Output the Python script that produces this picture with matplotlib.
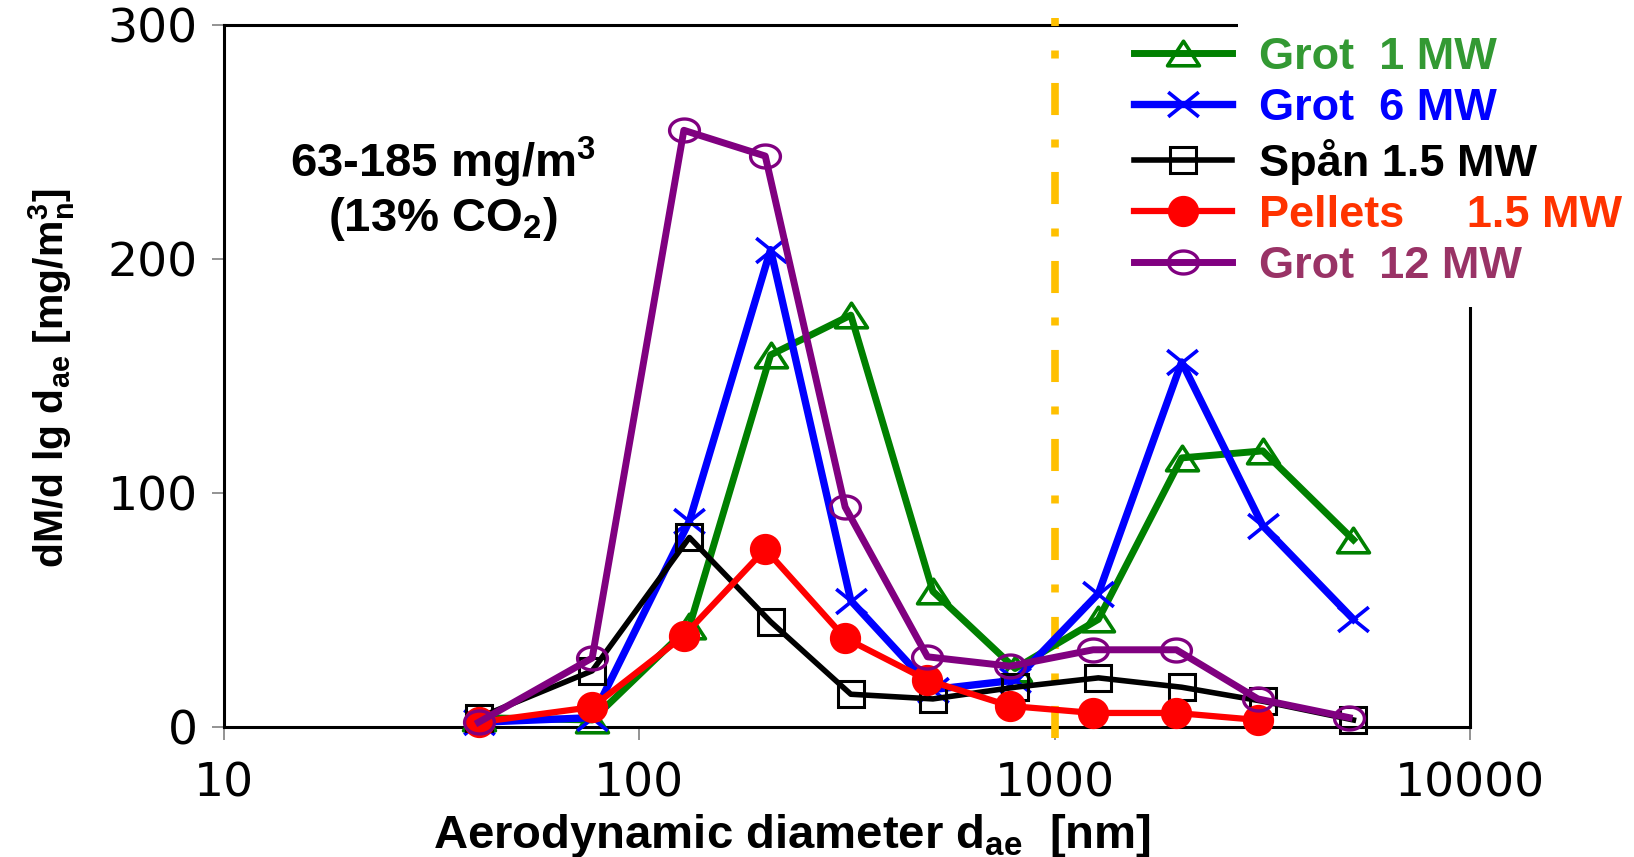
import numpy as np
import matplotlib
matplotlib.use('Agg')
import matplotlib.pyplot as plt
from matplotlib import font_manager
from matplotlib.patches import Rectangle
from matplotlib.path import Path

# diameters (nm) - two slightly different stage sets
diam_a = [41, 77, 132, 207, 323, 509, 803, 1274, 2022, 3170, 5240]
diam_b = [41, 77, 128, 201, 313, 494, 780, 1238, 1963, 3085, 5117]

grot_1mw = [4, 3, 43, 159, 176, 58, 25, 46, 115, 118, 80]
grot_6mw = [2, 4, 88, 204, 54, 16, 20, 57, 156, 86, 46]
span_15mw = [4, 24, 81, 45, 14, 12, 17, 21, 17, 11, 3]
pellets_15mw = [2, 8.5, 39, 76, 38, 20, 9, 6, 6, 3]
grot_12mw = [2, 29.5, 255, 244, 94, 30, 26, 33, 33, 12, 4]

labels = ['Grot  1 MW', 'Grot  6 MW', 'Spån 1.5 MW', 'Pellets     1.5 MW', 'Grot  12 MW']
line_colors = ['#008000', '#0000FF', '#000000', '#FF0000', '#800080']
text_colors = ['#339933', '#0000FF', '#000000', '#FF3300', '#993366']

x_ticks = [10, 100, 1000, 10000]
y_ticks = [0, 100, 200, 300]

names = {f.name for f in font_manager.fontManager.ttflist}
if 'Liberation Sans Narrow' in names:
    narrow = 'Liberation Sans Narrow'
    xl_size, ann_size = 41, 42
else:
    narrow = 'Liberation Sans'
    xl_size, ann_size = 34, 34

plt.rcParams['font.family'] = ['Liberation Sans', 'DejaVu Sans']

# the original markers are a bit wider than tall
tri = Path([(0, 0.5), (-0.65, -0.5), (0.65, -0.5), (0, 0.5)],
           [Path.MOVETO, Path.LINETO, Path.LINETO, Path.CLOSEPOLY])
cross = Path([(-0.62, -0.5), (0.62, 0.5), (-0.62, 0.5), (0.62, -0.5)],
             [Path.MOVETO, Path.LINETO, Path.MOVETO, Path.LINETO])
t = np.linspace(0, 2 * np.pi, 60)
ellipse = Path(np.column_stack([0.65 * np.cos(t), 0.5 * np.sin(t)]), closed=True)

fig = plt.figure(figsize=(16.34, 8.57), dpi=100)
ax = fig.add_axes([224 / 1634, 1 - 727 / 857, 1246 / 1634, 702 / 857])

styles = [
    dict(marker=tri, ms=23, mew=2.6, lw=5.0),
    dict(marker=cross, ms=22, mew=2.6, lw=5.3),
    dict(marker='s', ms=19, mew=2.2, lw=4.0),
    dict(marker='o', ms=21.5, mew=1.0, lw=4.5),
    dict(marker=ellipse, ms=21.5, mew=2.4, lw=5.0),
]
xs = [diam_a, diam_a, diam_a, diam_b[:10], diam_b]
ys = [grot_1mw, grot_6mw, span_15mw, pellets_15mw, grot_12mw]

handles = []
for x, y, c, st, lab in zip(xs, ys, line_colors, styles, labels):
    face = c if lab.startswith('Pellets') else 'none'
    h, = ax.plot(x, y, color=c, mec=c, mfc=face, zorder=3, clip_on=False,
                 label=lab, **st)
    handles.append(h)

# dash-dot marker line at 1 micron
ax.axvline(1000, ymin=-0.015, ymax=1.01, color='#FFC000', lw=5.5,
           linestyle=(0, (4.2, 3.2, 1.05, 3.2)), clip_on=False, zorder=2.8)

ax.set_xscale('log')
ax.set_xlim(10, 10000)
ax.set_ylim(0, 300)
ax.set_xticks(x_ticks)
ax.set_xticklabels([str(t) for t in x_ticks])
ax.set_yticks(y_ticks)
ax.set_yticklabels([str(t) for t in y_ticks])
ax.xaxis.set_minor_locator(matplotlib.ticker.NullLocator())

for s in ax.spines.values():
    s.set_linewidth(2.2)
ax.tick_params(axis='both', which='major', direction='out', length=9, width=1.2,
               color='#808080', labelsize=34)
ax.tick_params(axis='x', pad=16)
ax.tick_params(axis='y', pad=10)
for lbl in ax.get_xticklabels() + ax.get_yticklabels():
    lbl.set_fontfamily('DejaVu Sans')

ax.set_xlabel(r'Aerodynamic diameter d$\mathregular{_{ae}}$  [nm]',
              fontsize=xl_size, fontweight='bold', family=narrow, va='baseline')
ax.xaxis.set_label_coords(0.456, -0.172)
ax.set_ylabel(r'dM/d lg d$\mathregular{_{ae}}$ [mg/m$\mathregular{_n^3}$]',
              fontsize=29.5, fontweight='bold', va='center')
ax.yaxis.set_label_coords(-0.138, 0.497)

ax.text(443 / 1634, 1 - 189 / 857,
        '63-185 mg/m$\\mathregular{^3}$\n(13% CO$\\mathregular{_2}$)',
        transform=fig.transFigure, ha='center', va='center', fontsize=ann_size,
        fontweight='bold', family=narrow, linespacing=1.15)

# white box behind the legend hides part of the frame
ax.add_patch(Rectangle((0.814, 0.599), 0.3, 0.5, transform=ax.transAxes,
                       facecolor='white', edgecolor='none', clip_on=False, zorder=2.9))

leg = fig.legend(handles=handles, labels=labels, loc='upper left',
                 bbox_to_anchor=(1134 / 1634, 1 - 37 / 857), frameon=False,
                 prop={'weight': 'bold', 'size': 32.5}, handlelength=2.17,
                 handletextpad=0.6, labelspacing=0.22, borderpad=0, borderaxespad=0,
                 labelcolor=text_colors, numpoints=1)
leg.set_zorder(10)

fig.savefig('out.png', dpi=100)
